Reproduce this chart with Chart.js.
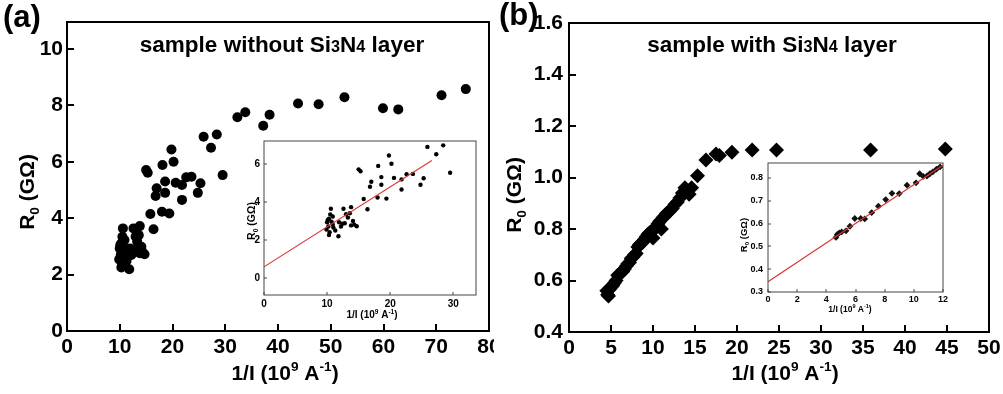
<!DOCTYPE html>
<html>
<head>
<meta charset="utf-8">
<script src="https://cdn.jsdelivr.net/npm/chart.js@4"></script>
<style>
html, body { margin: 0; padding: 0; background: #fff; }
#wrap { position: relative; width: 1003px; height: 394px; overflow: hidden; }
#wrap canvas { position: absolute; }
</style>
</head>
<body>
<div id="wrap">
  <canvas id="mainA" width="494" height="394" style="left:0;top:0"></canvas>
  <canvas id="insetA" width="252" height="192" style="left:232px;top:131px"></canvas>
  <canvas id="mainB" width="503" height="394" style="left:500px;top:0"></canvas>
  <canvas id="insetB" width="215" height="165" style="left:735px;top:155px"></canvas>
</div>
<script>
// panel (a): sample without Si3N4 layer, R0 vs 1/I
const aX = [75.6, 71.0, 62.8, 59.9, 52.6, 47.7, 43.8, 38.4, 37.2, 33.8, 32.3,
  29.5, 28.4, 27.3, 25.9, 25.3, 24.8, 23.6, 22.6, 21.8, 21.8, 20.6, 20.2, 19.8, 19.4,
  18.6, 18.6, 18.1, 18.0, 17.0, 16.8, 16.4, 15.8, 15.3, 15.0,
  10.6, 10.5, 10.3, 10.0, 10.2, 9.9, 10.3, 11.8, 11.3, 10.9, 11.9, 12.8, 12.6, 13.8,
  13.6, 13.3, 14.1, 14.7, 13.8, 10.9, 12.2, 10.1, 10.7, 11.0, 10.4, 13.0, 12.4, 14.3];
const aY = [8.58, 8.36, 7.86, 7.90, 8.29, 8.04, 8.07, 7.67, 7.28, 7.76, 7.58,
  5.53, 6.97, 6.50, 6.89, 5.24, 4.90, 5.47, 5.45, 5.18, 4.65, 5.26, 6.00, 6.44, 4.17,
  5.30, 4.90, 5.89, 4.23, 5.06, 4.79, 3.61, 4.15, 5.61, 5.71,
  3.64, 3.34, 3.11, 2.93, 2.70, 2.54, 2.25, 2.19, 2.49, 2.81, 2.93, 2.87, 3.64, 3.72,
  3.40, 3.17, 2.99, 2.72, 2.76, 3.23, 2.70, 3.05, 2.95, 2.65, 2.40, 3.35, 2.85, 2.80];
const aInsetMaxX = 30;            // inset shows the low-current part of the same data
const aFitX = [0, 26.6];
const aFitY = [0.58, 6.17];

// panel (b): sample with Si3N4 layer
const bX = [44.8, 35.9, 24.7, 21.8, 19.4, 17.9, 17.5, 16.3, 15.3,
  4.5, 4.6, 4.7, 4.8, 4.9, 5.0, 5.2, 5.4, 5.6, 5.8, 6.0, 6.2, 6.4, 6.6, 6.8, 7.0,
  7.2, 7.4, 7.6, 7.8, 8.0, 8.2, 8.4, 8.6, 8.8, 9.0, 9.2, 9.4, 9.6, 9.8, 10.0,
  10.2, 10.4, 10.6, 10.8, 11.0, 11.2, 11.4, 11.6, 11.8, 12.0, 12.3, 12.6, 12.9,
  13.2, 13.5, 13.8, 14.0, 14.3, 14.6];
const bY = [1.111, 1.107, 1.107, 1.107, 1.098, 1.085, 1.091, 1.068, 1.007,
  0.56, 0.545, 0.54, 0.565, 0.57, 0.575, 0.58, 0.59, 0.60, 0.62, 0.625, 0.63, 0.635, 0.645, 0.655, 0.665,
  0.67, 0.685, 0.69, 0.70, 0.705, 0.73, 0.74, 0.745, 0.75, 0.76, 0.77, 0.78, 0.785, 0.79, 0.765,
  0.80, 0.81, 0.82, 0.83, 0.80, 0.845, 0.85, 0.86, 0.865, 0.87, 0.88, 0.895, 0.905,
  0.92, 0.94, 0.96, 0.95, 0.935, 0.96];
const bInsetX = [4.66, 4.75, 4.89, 5.05, 5.35, 5.62, 5.95, 6.36, 6.63, 7.11, 7.57, 8.07,
  8.5, 9.0, 9.53, 10.15, 10.4, 10.65, 10.9, 11.1, 11.3, 11.55, 11.8];
const bInsetY = [0.539, 0.552, 0.559, 0.563, 0.568, 0.588, 0.622, 0.622, 0.620, 0.648, 0.676, 0.705,
  0.732, 0.731, 0.768, 0.778, 0.818, 0.806, 0.808, 0.818, 0.826, 0.838, 0.848];
const bFitX = [0, 12];
const bFitY = [0.345, 0.855];

// tick values
const aTicksX = [0, 10, 20, 30, 40, 50, 60, 70, 80];
const aTicksY = [0, 2, 4, 6, 8, 10];
const aInsetTicksX = [0, 10, 20, 30];
const aInsetTicksY = [0, 2, 4, 6];
const bTicksX = [0, 5, 10, 15, 20, 25, 30, 35, 40, 45, 50];
const bTicksY = [0.4, 0.6, 0.8, 1.0, 1.2, 1.4, 1.6];
const bInsetTicksX = [0, 2, 4, 6, 8, 10, 12];
const bInsetTicksY = [0.3, 0.4, 0.5, 0.6, 0.7, 0.8];

const FONT = "'Liberation Sans', Arial, sans-serif";

function pts(xs, ys, maxX) {
  const out = [];
  xs.forEach((x, i) => { if (maxX === undefined || x <= maxX) out.push({ x: x, y: ys[i] }); });
  return out;
}

// text with sub/superscripts, drawn centred on (x, y) baseline
function drawRich(ctx, t) {
  const fontFor = p => 'bold ' + (t.size * (p.s || 1)) + 'px ' + FONT;
  let w = 0;
  t.parts.forEach(p => { ctx.font = fontFor(p); w += ctx.measureText(p.t).width; });
  ctx.save();
  ctx.translate(t.x, t.y);
  if (t.rotate) ctx.rotate(t.rotate);
  ctx.textAlign = 'left';
  ctx.textBaseline = 'alphabetic';
  ctx.fillStyle = '#000';
  let cx = t.align === 'left' ? 0 : -w / 2;
  t.parts.forEach(p => {
    ctx.font = fontFor(p);
    ctx.fillText(p.t, cx, (p.dy || 0) * t.size);
    cx += ctx.measureText(p.t).width;
  });
  ctx.restore();
}

const R0 = [{ t: 'R' }, { t: '0', s: 0.65, dy: 0.25 }, { t: ' (GΩ)' }];
const INV = [{ t: '1/I (10' }, { t: '9', s: 0.65, dy: -0.42 }, { t: ' A' }, { t: '-1', s: 0.65, dy: -0.42 }, { t: ')' }];

// frame, inward ticks and the extra texts
const decor = {
  id: 'decor',
  afterDraw(chart, args, o) {
    const ctx = chart.ctx, a = chart.chartArea;
    ctx.save();
    ctx.strokeStyle = o.color;
    ctx.lineWidth = o.width;
    ctx.strokeRect(a.left, a.top, a.right - a.left, a.bottom - a.top);
    ctx.beginPath();
    const sx = chart.scales.x, sy = chart.scales.y;
    sx.ticks.forEach(t => {
      const px = Math.round(sx.getPixelForValue(t.value));
      ctx.moveTo(px, a.bottom); ctx.lineTo(px, a.bottom - o.tick);
    });
    sy.ticks.forEach(t => {
      const py = Math.round(sy.getPixelForValue(t.value));
      ctx.moveTo(a.left, py); ctx.lineTo(a.left + o.tick, py);
    });
    ctx.stroke();
    ctx.restore();
    (o.texts || []).forEach(t => drawRich(ctx, t));
  }
};

function makeChart(id, cfg) {
  const fixed = (w) => s => { s.width = w; s.paddingTop = 0; s.paddingBottom = 0; };
  const fixedH = (h) => s => { s.height = h; s.paddingLeft = 0; s.paddingRight = 0; };
  const fmt = cfg.decimals ? v => Number(v).toFixed(cfg.decimals) : v => v;
  return new Chart(document.getElementById(id), {
    type: 'scatter',
    data: { datasets: cfg.datasets },
    options: {
      responsive: false,
      animation: false,
      layout: { padding: cfg.padding },
      plugins: {
        legend: { display: false },
        tooltip: { enabled: false },
        decor: cfg.decor
      },
      scales: {
        x: {
          type: 'linear', min: cfg.xRange[0], max: cfg.xRange[1],
          afterBuildTicks: s => { s.ticks = cfg.xTicks.map(v => ({ value: v })); },
          afterFit: fixedH(cfg.xH),
          grid: { display: false, drawTicks: false },
          border: { display: false },
          ticks: { color: '#000', padding: cfg.xPad, font: { family: FONT, size: cfg.tickSize, weight: 'bold' } }
        },
        y: {
          type: 'linear', min: cfg.yRange[0], max: cfg.yRange[1],
          afterBuildTicks: s => { s.ticks = cfg.yTicks.map(v => ({ value: v })); },
          afterFit: fixed(cfg.yW),
          grid: { display: false, drawTicks: false },
          border: { display: false },
          ticks: { color: '#000', padding: cfg.yPad, callback: fmt, font: { family: FONT, size: cfg.tickSize, weight: 'bold' } }
        }
      }
    },
    plugins: [decor]
  });
}

function fitLine(xs, ys) {
  return {
    type: 'line', data: pts(xs, ys), borderColor: '#d8383a', borderWidth: 1.2,
    pointRadius: 0, showLine: true, order: 0
  };
}

// (a) main
makeChart('mainA', {
  datasets: [{ data: pts(aX, aY), pointStyle: 'circle', pointRadius: 5, backgroundColor: '#000', borderWidth: 0 }],
  padding: { left: 0, right: 3, top: 22, bottom: 0 },
  xRange: [0, 80], yRange: [0, 10.96], xTicks: aTicksX, yTicks: aTicksY,
  xH: 63, yW: 67, xPad: 4, yPad: 4, tickSize: 21,
  decor: {
    color: '#000', width: 2, tick: 7,
    texts: [
      { parts: [{ t: '(a)' }], x: 3, y: 27, size: 31, align: 'left' },
      { parts: [{ t: 'sample without Si' }, { t: '3', s: 0.72 }, { t: 'N' }, { t: '4', s: 0.72 }, { t: ' layer' }], x: 282, y: 52, size: 22.5 },
      { parts: R0, x: 34, y: 192, size: 21, rotate: -Math.PI / 2 },
      { parts: INV, x: 285, y: 380, size: 21 }
    ]
  }
});

// (a) inset with linear fit
makeChart('insetA', {
  datasets: [
    fitLine(aFitX, aFitY),
    { data: pts(aX, aY, aInsetMaxX), pointStyle: 'circle', pointRadius: 2.2, backgroundColor: '#000', borderWidth: 0, order: 1 }
  ],
  padding: { left: 0, right: 8, top: 10, bottom: 0 },
  xRange: [0, 33.6], yRange: [-0.9, 7.2], xTicks: aInsetTicksX, yTicks: aInsetTicksY,
  xH: 28, yW: 32, xPad: 3, yPad: 4, tickSize: 10,
  decor: {
    color: '#444', width: 1, tick: 3,
    texts: [
      { parts: R0, x: 23, y: 90, size: 10.5, rotate: -Math.PI / 2 },
      { parts: INV, x: 140, y: 187, size: 10 }
    ]
  }
});

// (b) main
makeChart('mainB', {
  datasets: [{ data: pts(bX, bY), pointStyle: 'rectRot', pointRadius: 7.5, backgroundColor: '#000', borderWidth: 0 }],
  padding: { left: 0, right: 14, top: 23, bottom: 0 },
  xRange: [0, 50], yRange: [0.4, 1.6], xTicks: bTicksX, yTicks: bTicksY,
  xH: 62, yW: 69, xPad: 4, yPad: 6, tickSize: 21, decimals: 1,
  decor: {
    color: '#000', width: 2, tick: 7,
    texts: [
      { parts: [{ t: '(b)' }], x: -1, y: 25, size: 31, align: 'left' },
      { parts: [{ t: 'sample with Si' }, { t: '3', s: 0.72 }, { t: 'N' }, { t: '4', s: 0.72 }, { t: ' layer' }], x: 272, y: 52, size: 22.5 },
      { parts: R0, x: 21, y: 195, size: 21, rotate: -Math.PI / 2 },
      { parts: INV, x: 285, y: 380, size: 21 }
    ]
  }
});

// (b) inset with linear fit
makeChart('insetB', {
  datasets: [
    fitLine(bFitX, bFitY),
    { data: pts(bInsetX, bInsetY), pointStyle: 'rectRot', pointRadius: 3.4, backgroundColor: '#111', borderWidth: 0, order: 1 }
  ],
  padding: { left: 0, right: 7, top: 8, bottom: 0 },
  xRange: [0, 12], yRange: [0.3, 0.865], xTicks: bInsetTicksX, yTicks: bInsetTicksY,
  xH: 28, yW: 33, xPad: 2, yPad: 5, tickSize: 9, decimals: 1,
  decor: {
    color: '#444', width: 1, tick: 3,
    texts: [
      { parts: R0, x: 12, y: 80, size: 9.5, rotate: -Math.PI / 2 },
      { parts: INV, x: 115, y: 157, size: 8.5 }
    ]
  }
});
</script>
</body>
</html>
